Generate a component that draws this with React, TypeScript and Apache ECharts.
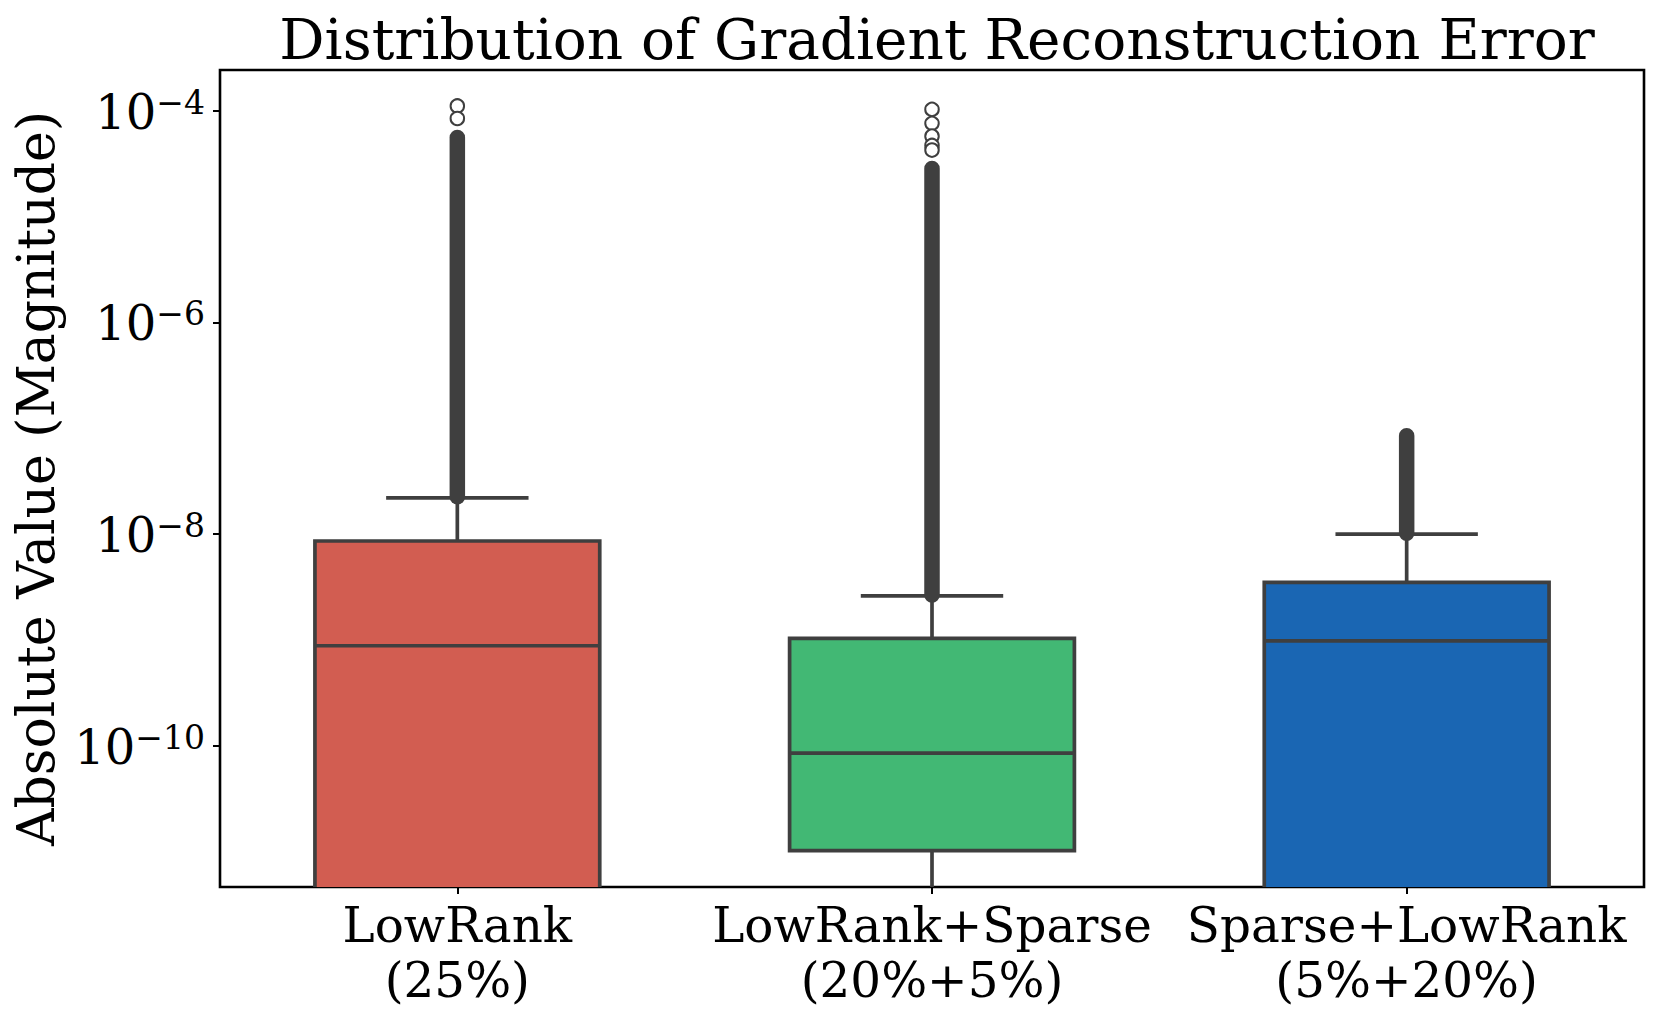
import React, { useEffect, useRef } from "react";
import * as echarts from "echarts";

// ---- data ----
const categories = ["LowRank\n(25%)", "LowRank+Sparse\n(20%+5%)", "Sparse+LowRank\n(5%+20%)"];
const lowerWhisker = [1e-13, 1e-13, 1e-13];
const q1Values = [1e-12, 1.02e-11, 1e-12];
const medianValues = [8.8e-10, 8.5e-11, 9.8e-10];
const q3Values = [8.6e-9, 1.035e-9, 3.5e-9];
const upperWhisker = [2.2e-8, 2.6e-9, 1.0e-8];
// dense (visually continuous) runs of outliers: [lowest, highest]
const denseOutlierLow = [2.25e-8, 2.65e-9, 1.02e-8];
const denseOutlierHigh = [5.6e-5, 2.85e-5, 8.5e-8];
// individually visible outliers
const sparseOutliers: number[][] = [
  [1.11e-4, 8.45e-5],
  [1.03e-4, 7.6e-5, 5.75e-5, 4.7e-5, 4.25e-5],
  [],
];
const boxColors = ["#d25d51", "#42b874", "#1a66b3"];
const yTickValues = [1e-10, 1e-8, 1e-6, 1e-4];
const yAxisMin = Math.pow(10, -11.335);
const yAxisMax = Math.pow(10, -3.615);

const EDGE = "#3f3f3f";
const FONT = "DejaVu Serif";

export default function App() {
  const ref = useRef<HTMLDivElement>(null);
  useEffect(() => {
    if (!ref.current) return;
    const chart = echarts.init(ref.current, undefined, { renderer: "svg" });
    const L = Math.log10;

    const boxData = categories.map((_, i) => [
      i,
      L(lowerWhisker[i]),
      L(q1Values[i]),
      L(medianValues[i]),
      L(q3Values[i]),
      L(upperWhisker[i]),
    ]);
    const denseData = categories.map((_, i) => [i, L(denseOutlierLow[i]), L(denseOutlierHigh[i])]);
    const scatterData: number[][] = [];
    sparseOutliers.forEach((arr, i) => arr.forEach((v) => scatterData.push([i, L(v)])));

    const LW = 3.7;
    const mkLine = (x1: number, y1: number, x2: number, y2: number) => ({
      type: "line",
      shape: { x1, y1, x2, y2 },
      style: { stroke: EDGE, lineWidth: LW },
    });

    const option: any = {
      animation: false,
      backgroundColor: "#ffffff",
      title: {
        text: "Distribution of Gradient Reconstruction Error",
        left: 932,
        textAlign: "center",
        top: 6,
        textStyle: { fontFamily: FONT, fontSize: 56.5, fontWeight: "normal", color: "#000" },
      },
      grid: {
        left: 220,
        right: 16,
        top: 70,
        bottom: 130,
        show: true,
        borderColor: "#000",
        borderWidth: 2.6,
        backgroundColor: "#fff",
      },
      xAxis: {
        type: "category",
        data: categories,
        boundaryGap: true,
        axisLine: { show: false },
        axisTick: { show: true, alignWithLabel: true, length: 7, lineStyle: { color: "#000", width: 2 } },
        axisLabel: {
          fontFamily: FONT,
          fontSize: 48.4,
          color: "#000",
          lineHeight: 55,
          margin: 10,
          interval: 0,
        },
        splitLine: { show: false },
      },
      yAxis: {
        type: "value",
        min: L(yAxisMin),
        max: L(yAxisMax),
        name: "Absolute Value (Magnitude)",
        nameLocation: "middle",
        nameGap: 158,
        nameTextStyle: { fontFamily: FONT, fontSize: 52, color: "#000" },
        axisLine: { show: false },
        splitLine: { show: false },
        axisTick: {
          show: true,
          length: 7,
          lineStyle: { color: "#000", width: 2 },
          customValues: yTickValues.map(L),
        },
        axisLabel: {
          customValues: yTickValues.map(L),
          margin: 15,
          color: "#000",
          formatter: (v: number) => `{b|10}{s|\u2212${Math.round(-v)}}`,
          rich: {
            b: { fontFamily: FONT, fontSize: 48, color: "#000", lineHeight: 50, verticalAlign: "bottom" },
            s: { fontFamily: FONT, fontSize: 33, color: "#000", lineHeight: 33, verticalAlign: "top" },
          },
        },
      },
      series: [
        {
          type: "custom",
          clip: true,
          data: boxData,
          encode: { x: 0, y: [1, 2, 3, 4, 5] },
          renderItem: (params: any, api: any) => {
            const idx = api.value(0);
            const xc = api.coord([idx, 0])[0];
            const band = api.size([1, 0])[0];
            const boxW = band * 0.6;
            const capW = boxW / 2;
            const yLw = api.coord([idx, api.value(1)])[1];
            const yQ1 = api.coord([idx, api.value(2)])[1];
            const yMed = api.coord([idx, api.value(3)])[1];
            const yQ3 = api.coord([idx, api.value(4)])[1];
            const yUw = api.coord([idx, api.value(5)])[1];
            return {
              type: "group",
              children: [
                mkLine(xc, yQ3, xc, yUw),
                mkLine(xc - capW / 2, yUw, xc + capW / 2, yUw),
                mkLine(xc, yQ1, xc, yLw),
                mkLine(xc - capW / 2, yLw, xc + capW / 2, yLw),
                {
                  type: "rect",
                  shape: { x: xc - boxW / 2, y: yQ3, width: boxW, height: yQ1 - yQ3 },
                  style: { fill: boxColors[idx], stroke: EDGE, lineWidth: LW },
                },
                mkLine(xc - boxW / 2, yMed, xc + boxW / 2, yMed),
              ],
            };
          },
          z: 2,
        },
        {
          type: "custom",
          clip: true,
          data: denseData,
          encode: { x: 0, y: [1, 2] },
          renderItem: (params: any, api: any) => {
            const idx = api.value(0);
            const xc = api.coord([idx, 0])[0];
            const yLo = api.coord([idx, api.value(1)])[1];
            const yHi = api.coord([idx, api.value(2)])[1];
            const w = 15.5;
            return {
              type: "rect",
              shape: { x: xc - w / 2, y: yHi - w / 2, width: w, height: yLo - yHi + w, r: w / 2 },
              style: { fill: EDGE },
            };
          },
          z: 3,
        },
        {
          type: "scatter",
          data: scatterData,
          symbol: "circle",
          symbolSize: 13.5,
          itemStyle: { color: "#fff", borderColor: EDGE, borderWidth: 2, opacity: 1 },
          z: 4,
        },
      ],
    };
    chart.setOption(option);
    return () => chart.dispose();
  }, []);
  return (
    <div
      ref={ref}
      style={{ position: "fixed", left: 0, top: 0, width: 1660, height: 1017, background: "#fff" }}
    />
  );
}
